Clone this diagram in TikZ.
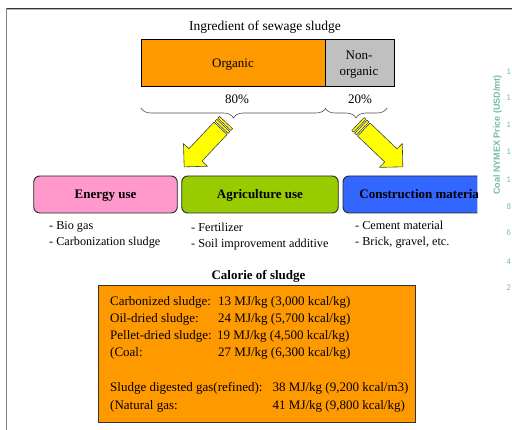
\documentclass[tikz,border=0pt]{standalone}
\usepackage{fontspec}
\setmainfont{Liberation Serif}
\setsansfont{Liberation Sans}
\usetikzlibrary{decorations.pathreplacing}

\definecolor{orgorange}{HTML}{FF9900}
\definecolor{nongray}{HTML}{C0C0C0}
\definecolor{energypink}{HTML}{FF99CC}
\definecolor{agrigreen}{HTML}{99CC00}
\definecolor{constblue}{HTML}{3366FF}
\definecolor{arrowyellow}{HTML}{FFFF00}
\definecolor{arrowline}{HTML}{404040}
\definecolor{ghostgreen}{HTML}{72BE9A}
\definecolor{framedark}{HTML}{333333}
\definecolor{framegray}{HTML}{808080}

\tikzset{
  txt/.style={inner sep=0pt, text height=8.6pt, text depth=0pt, font=\fontsize{13}{15}\selectfont},
  listtxt/.style={txt, anchor=west, font=\fontsize{12.2}{14}\selectfont},
  usebox/.style={draw=black!85, line width=0.9pt, rounded corners=6pt,
    minimum height=37pt, inner sep=0pt},
  boxlabel/.style={txt, font=\fontsize{13}{15}\selectfont\bfseries},
  calline/.style={txt, anchor=west, font=\fontsize{13}{15}\selectfont},
  ghost/.style={inner sep=0pt, text=ghostgreen, font=\sffamily\bfseries\fontsize{9}{10}\selectfont},
  brace line/.style={draw=black!70, line width=0.6pt,
    decorate, decoration={brace, amplitude=10pt, mirror}},
  pics/stripearrow/.style={code={
    \begin{scope}[fill=arrowyellow, draw=arrowline, line width=0.6pt, line join=round]
      \filldraw (0pt,-9pt) rectangle (2.5pt,9pt);
      \filldraw (4pt,-9pt) rectangle (6.5pt,9pt);
      \filldraw (8pt,-9pt) -- ({(#1-16.5)*1pt},-9pt) -- ({(#1-16.5)*1pt},-16.5pt)
        -- ({#1*1pt},0pt) -- ({(#1-16.5)*1pt},16.5pt) -- ({(#1-16.5)*1pt},9pt)
        -- (8pt,9pt) -- cycle;
    \end{scope}
  }},
}

\begin{document}
\begin{tikzpicture}[x=1pt, y=-1pt]
  \useasboundingbox (0,0) rectangle (512,430);

  % frame edges
  \draw[framedark, line width=1pt] (6,8.3) -- (512,8.3);
  \draw[black!30, line width=0.7pt] (7,9.6) -- (512,9.6);
  \draw[framegray, line width=1.3pt] (6.7,8) -- (6.7,430);

  % faint axis of a neighbouring chart at the page edge
  \node[ghost, rotate=90] (axislabel) at (497.5,135) {Coal NYMEX Price (USD/mt)};
  \foreach \v/\yy [count=\i] in {1/72, 1/98, 1/125, 1/152, 1/180, 8/207, 6/233, 4/262, 2/288}
    \node[ghost, anchor=west, font=\sffamily\fontsize{8}{9}\selectfont] (tick\i) at (506.5,\yy) {\v};

  % composition bar
  \node[txt, font=\fontsize{13.5}{15}\selectfont] (title) at (265,26.5) {Ingredient of sewage sludge};
  \node[draw=black, line width=0.9pt, fill=orgorange, minimum width=184pt, minimum height=47.5pt,
        inner sep=0pt, anchor=north west] (organic) at (141,39) {};
  \node[draw=black, line width=0.9pt, fill=nongray, minimum width=69pt, minimum height=47.5pt,
        inner sep=0pt, anchor=north west] (nonorganic) at (325,39) {};
  \node[txt] (orglabel) at (233,63) {Organic};
  \node[txt] (nonlabel1) at (359,55) {Non-};
  \node[txt] (nonlabel2) at (359,71.5) {organic};
  \node[txt] (pct80) at (237,99) {80\%};
  \node[txt] (pct20) at (360,99) {20\%};

  % braces
  \draw[brace line] (organic.south west |- 0,108) -- (organic.south east |- 0,108);
  \draw[brace line] (nonorganic.south west |- 0,108) -- (387,108);

  % striped arrows
  \pic[rotate=-133.3] (leftarrow) at (226,122.5) {stripearrow=61};
  \pic[rotate=-43.7] (rightarrow) at (358,124) {stripearrow=62};

  % use categories
  \node[usebox, fill=energypink, minimum width=143.5pt] (energy) at (105.5,194.5) {};
  \node[boxlabel] (energylabel) at (energy.center) {Energy use};
  \node[usebox, fill=agrigreen, minimum width=156.5pt] (agri) at (260,194.5) {};
  \node[boxlabel] (agrilabel) at (agri.center) {Agriculture use};
  \begin{scope}
    \clip (330,150) rectangle (477.3,230);
    \node[usebox, fill=constblue, minimum width=156pt] (constr) at (421,194.5) {};
    \node[boxlabel] (constrlabel) at (constr.center) {Construction material};
  \end{scope}

  % use examples
  \node[listtxt] (bio) at (49,225) {- Bio gas};
  \node[listtxt] (carb) at (49,241) {- Carbonization sludge};
  \node[listtxt] (fert) at (191,227) {- Fertilizer};
  \node[listtxt] (soil) at (191,243) {- Soil improvement additive};
  \node[listtxt] (cement) at (355,225) {- Cement material};
  \node[listtxt] (brick) at (355,241) {- Brick, gravel, etc.};

  % calorific values
  \node[boxlabel] (caltitle) at (258.5,275) {Calorie of sludge};
  \node[draw=black!80, line width=0.9pt, fill=orgorange, minimum width=317pt, minimum height=137pt,
        inner sep=0pt, anchor=north west] (calbox) at (98,285) {};
  \node[calline] (c1a) at (110,301.5) {Carbonized sludge:};
  \node[calline] (c1b) at (218,301.5) {13 MJ/kg (3,000 kcal/kg)};
  \node[calline] (c2a) at (110,318.3) {Oil-dried sludge:};
  \node[calline] (c2b) at (218,318.3) {24 MJ/kg (5,700 kcal/kg)};
  \node[calline] (c3a) at (110,335.5) {Pellet-dried sludge:};
  \node[calline] (c3b) at (217,335.5) {19 MJ/kg (4,500 kcal/kg)};
  \node[calline] (c4a) at (110,352.5) {(Coal:};
  \node[calline] (c4b) at (218,352.5) {27 MJ/kg (6,300 kcal/kg)};
  \node[calline] (c5a) at (110,387.5) {Sludge digested gas(refined):};
  \node[calline] (c5b) at (272.5,387.5) {38 MJ/kg (9,200 kcal/m3)};
  \node[calline] (c6a) at (110,405) {(Natural gas:};
  \node[calline] (c6b) at (272.5,405) {41 MJ/kg (9,800 kcal/kg)};
\end{tikzpicture}
\end{document}
